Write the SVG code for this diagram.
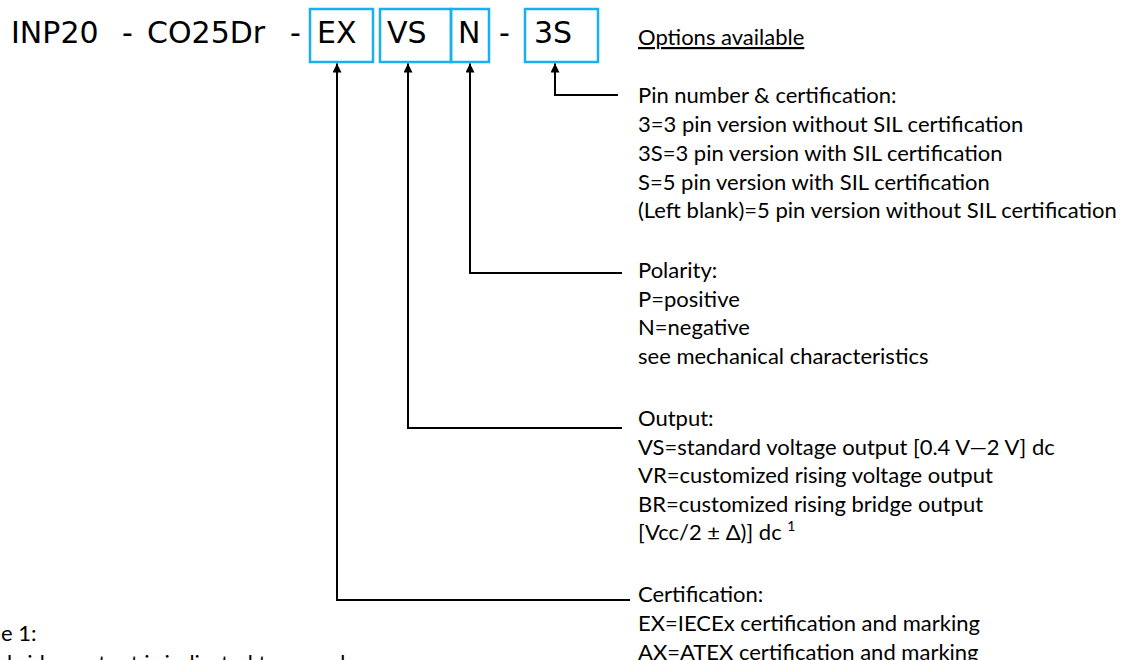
<svg xmlns="http://www.w3.org/2000/svg" width="1124" height="660" viewBox="0 0 1124 660">
<style>
.code{font-family:"DejaVu Sans",Verdana,sans-serif;font-size:30px;fill:#000}
.t{font-family:Lato,"Liberation Sans",sans-serif;font-size:22px;fill:#000}
.box{fill:none;stroke:#1ab0ef;stroke-width:2.5}
.con{fill:none;stroke:#000;stroke-width:2}
</style>
<defs>
<marker id="ah" viewBox="0 0 10 10" refX="10" refY="5" markerWidth="4.5" markerHeight="4.5" orient="auto" markerUnits="strokeWidth">
<path d="M0,0 L10,5 L0,10 z" fill="#000"/>
</marker>
</defs>
<rect width="1124" height="660" fill="#fff"/>
<g id="code">
<text class="code" x="11" y="43">INP20</text>
<text class="code" x="122" y="43">-</text>
<text class="code" x="147" y="43">CO25Dr</text>
<text class="code" x="290" y="43">-</text>
<text class="code" x="499" y="43">-</text>
</g>
<g id="box-ex">
<rect class="box" x="310" y="9" width="63" height="53"/>
<text class="code" x="317" y="43">EX</text>
</g>
<g id="box-vs">
<rect class="box" x="380" y="9" width="71" height="53"/>
<text class="code" x="387" y="43">VS</text>
</g>
<g id="box-n">
<rect class="box" x="451" y="9" width="38" height="53"/>
<text class="code" x="458" y="43">N</text>
</g>
<g id="box-3s">
<rect class="box" x="525" y="9" width="73" height="53"/>
<text class="code" x="534" y="43">3S</text>
</g>
<g id="heading">
<text class="t" x="638" y="45" text-decoration="underline">Options available</text>
</g>
<g id="connectors">
<path class="con" d="M618,95 H555 V63.5" marker-end="url(#ah)"/>
<path class="con" d="M622,273 H470 V63.5" marker-end="url(#ah)"/>
<path class="con" d="M622,428 H408 V63.5" marker-end="url(#ah)"/>
<path class="con" d="M630,600 H337 V63.5" marker-end="url(#ah)"/>
</g>
<g id="pin-options">
<text class="t" x="638" y="103">Pin number &amp; certification:</text>
<text class="t" x="638" y="132">3=3 pin version without SIL certification</text>
<text class="t" x="638" y="161">3S=3 pin version with SIL certification</text>
<text class="t" x="638" y="190">S=5 pin version with SIL certification</text>
<text class="t" x="638" y="218">(Left blank)=5 pin version without SIL certification</text>
</g>
<g id="polarity-options">
<text class="t" x="638" y="278">Polarity:</text>
<text class="t" x="638" y="307">P=positive</text>
<text class="t" x="638" y="335">N=negative</text>
<text class="t" x="638" y="364">see mechanical characteristics</text>
</g>
<g id="output-options">
<text class="t" x="638" y="426">Output:</text>
<text class="t" x="638" y="455">VS=standard voltage output [0.4 V—2 V] dc</text>
<text class="t" x="638" y="483">VR=customized rising voltage output</text>
<text class="t" x="638" y="512">BR=customized rising bridge output</text>
<text class="t" x="638" y="540">[Vcc/2 ± Δ)] dc <tspan font-size="14" dy="-9">1</tspan></text>
</g>
<g id="cert-options">
<text class="t" x="638" y="602">Certification:</text>
<text class="t" x="638" y="631">EX=IECEx certification and marking</text>
<text class="t" x="638" y="660">AX=ATEX certification and marking</text>
</g>
<g id="note">
<text class="t" x="1" y="641">e 1:</text>
<text class="t" x="7" y="671">bridge output is indicated to use when</text>
</g>
</svg>
